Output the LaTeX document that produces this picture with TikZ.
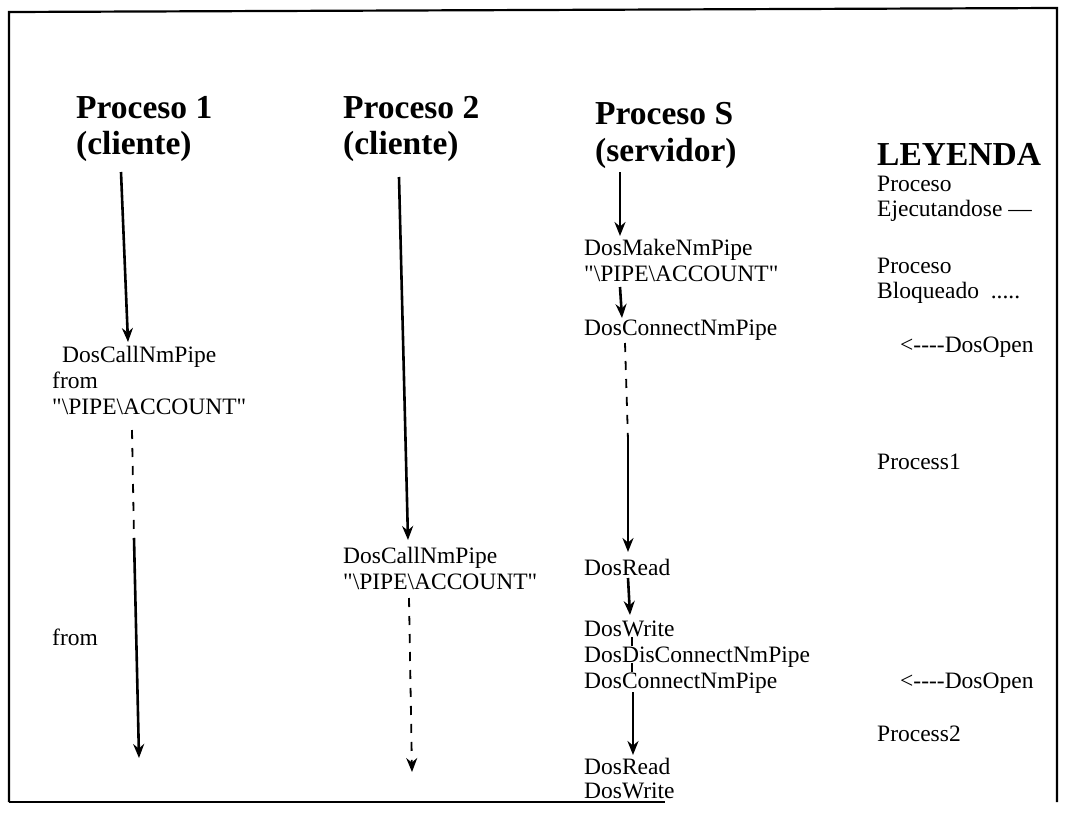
\documentclass[tikz,border=0pt]{standalone}
\usepackage{fontspec}
\setmainfont{Liberation Serif}[Ligatures=TeXOff]
\usetikzlibrary{arrows.meta}
\newcommand{\pipename}{"\textbackslash PIPE\textbackslash ACCOUNT"}
\newcommand{\openarrow}{<----DosOpen}
\begin{document}
\begin{tikzpicture}[x=1pt,y=-1pt,
  txt/.style={anchor=base west, inner sep=0pt, font=\fontsize{23.5}{26}\selectfont},
  head/.style={anchor=base west, inner sep=0pt, font=\fontsize{33.5}{36}\selectfont\bfseries},
  frame/.style={line width=2.2pt},
  flow/.style={line width=2.6pt, -{Stealth[length=14pt,width=11pt]}},
  wait/.style={line width=1.8pt, dash pattern=on 9pt off 9pt},
  waitflow/.style={wait, -{Stealth[length=14pt,width=11pt]}}]
\useasboundingbox (0,0) rectangle (1066,814);

% outer frame (bottom edge only partly drawn)
\coordinate (ftl) at (9,12);
\coordinate (ftr) at (1057,8);
\coordinate (fbr) at (1057,802);
\coordinate (fbl) at (9,802);
\coordinate (fbe) at (665,802);
\draw[frame] (fbl) -- (ftl) -- (ftr) -- (fbr);
\draw[frame] (fbl) -- (fbe);

% column headings
\node[head] (h1a) at (76,118) {Proceso 1};
\node[head] (h1b) at (76,154) {(cliente)};
\node[head] (h2a) at (343,118) {Proceso 2};
\node[head] (h2b) at (343,154) {(cliente)};
\node[head] (hsa) at (595,124) {Proceso S};
\node[head] (hsb) at (595,161) {(servidor)};
\node[head] (ley) at (877,165) {LEYENDA};

% client 1
\node[txt] (c1)  at (62,362) {DosCallNmPipe};
\node[txt] (f1)  at (52,388) {from};
\node[txt] (a1)  at (52,414) {\pipename};
\node[txt] (f2)  at (52,645) {from};

% client 2
\node[txt] (c2) at (343,563) {DosCallNmPipe};
\node[txt] (a2) at (343,589) {\pipename};

% server
\node[txt] (s1) at (584,255) {DosMakeNmPipe};
\node[txt] (s2) at (584,281) {\pipename};
\node[txt] (s3) at (584,335) {DosConnectNmPipe};
\node[txt] (s4) at (584,575) {DosRead};
\node[txt] (s5) at (584,636) {DosWrite};
\node[txt] (s6) at (584,662) {DosDisConnectNmPipe};
\node[txt] (s7) at (584,688) {DosConnectNmPipe};
\node[txt] (s8) at (584,774) {DosRead};
\node[txt] (s9) at (584,798) {DosWrite};

% legend
\node[txt] (l1) at (877,191) {Proceso};
\node[txt] (l2) at (877,216) {Ejecutandose —};
\node[txt] (l3) at (877,273) {Proceso};
\node[txt] (l4) at (877,298) {Bloqueado\ \ .....};
\node[txt] (o1) at (900,352) {\openarrow};
\node[txt] (p1) at (877,469) {Process1};
\node[txt] (o2) at (900,688) {\openarrow};
\node[txt] (p2) at (877,741) {Process2};

% client 1 timeline
\coordinate (t1a) at (121,172);
\coordinate (t1b) at (128,342);
\coordinate (t1c) at (132,430);
\coordinate (t1d) at (134,538);
\coordinate (t1e) at (139,758);
\draw[flow] (t1a) -- (t1b);
\draw[wait] (t1c) -- (t1d);
\draw[flow] (t1d) -- (t1e);

% client 2 timeline
\coordinate (t2a) at (399,177);
\coordinate (t2b) at (408,540);
\coordinate (t2c) at (409,598);
\coordinate (t2d) at (412,772);
\draw[flow] (t2a) -- (t2b);
\draw[waitflow] (t2c) -- (t2d);

% server timeline
\coordinate (tsa) at (620,172);
\coordinate (tsb) at (620,236);
\coordinate (tsc) at (620,287);
\coordinate (tsd) at (622,318);
\coordinate (tse) at (625,343);
\coordinate (tsf) at (628,440);
\coordinate (tsg) at (628,552);
\coordinate (tsh) at (628,578);
\coordinate (tsi) at (630,615);
\coordinate (tsj) at (632,637);
\coordinate (tsk) at (632,646);
\coordinate (tsl) at (632,663);
\coordinate (tsm) at (632,672);
\coordinate (tsn) at (633,692);
\coordinate (tso) at (633,755);
\draw[flow] (tsa) -- (tsb);
\draw[flow] (tsc) -- (tsd);
\draw[wait] (tse) -- (tsf);
\draw[flow] (tsf) -- (tsg);
\draw[flow] (tsh) -- (tsi);
\draw[wait] (tsj) -- (tsk);
\draw[wait] (tsl) -- (tsm);
\draw[flow] (tsn) -- (tso);
\end{tikzpicture}
\end{document}
